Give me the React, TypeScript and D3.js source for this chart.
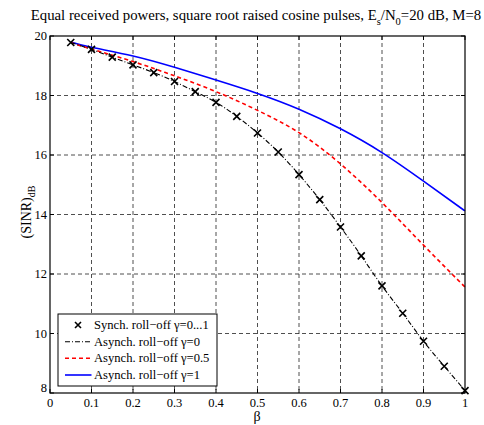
import React from 'react';
import * as d3 from 'd3';

// beta values of the cross markers (synchronous case)
const betaMarks = [0.05, 0.1, 0.15, 0.2, 0.25, 0.3, 0.35, 0.4, 0.45, 0.5, 0.55, 0.6, 0.65, 0.7, 0.75, 0.8, 0.85, 0.9, 0.95, 1.0];
const synchSinr = [19.78, 19.55, 19.29, 19.03, 18.77, 18.47, 18.13, 17.77, 17.3, 16.74, 16.1, 15.34, 14.5, 13.58, 12.61, 11.6, 10.68, 9.74, 8.9, 8.08];
// asynch gamma=0 follows the same points
const asyncZero = [19.78, 19.55, 19.29, 19.03, 18.77, 18.47, 18.13, 17.77, 17.3, 16.74, 16.1, 15.34, 14.5, 13.58, 12.61, 11.6, 10.68, 9.74, 8.9, 8.08];

const betaCurve = [0.05, 0.1, 0.2, 0.3, 0.4, 0.5, 0.6, 0.7, 0.8, 0.9, 1.0];
const asyncHalf = [19.78, 19.56, 19.14, 18.66, 18.13, 17.5, 16.75, 15.7, 14.4, 12.97, 11.56];
const asyncOne = [19.8, 19.62, 19.33, 18.95, 18.52, 18.07, 17.54, 16.88, 16.08, 15.12, 14.12];

const xTicks = [0, 0.1, 0.2, 0.3, 0.4, 0.5, 0.6, 0.7, 0.8, 0.9, 1];
const yTicks = [8, 10, 12, 14, 16, 18, 20];

const legendLabels = [
  'Synch. roll\u2212off \u03b3=0...1',
  'Asynch. roll\u2212off \u03b3=0',
  'Asynch. roll\u2212off \u03b3=0.5',
  'Asynch. roll\u2212off \u03b3=1',
];

const W = 484;
const H = 425;
const font = "'Liberation Serif', 'Times New Roman', serif";

export default function App() {
  const left = 50, right = 465, top = 36, bottom = 393;
  const x = d3.scaleLinear().domain([0, 1]).range([left, right]);
  const y = d3.scaleLinear().domain([8, 20]).range([bottom, top]);

  const line = d3.line<[number, number]>()
    .x(d => x(d[0]))
    .y(d => y(d[1]))
    .curve(d3.curveNatural);

  const zeroPath = line(betaMarks.map((b, i) => [b, asyncZero[i]]) as [number, number][]) || '';
  const halfPath = line(betaCurve.map((b, i) => [b, asyncHalf[i]]) as [number, number][]) || '';
  const onePath = line(betaCurve.map((b, i) => [b, asyncOne[i]]) as [number, number][]) || '';

  const cross = (cx: number, cy: number, s: number, key: number | string) => (
    <path key={key} d={`M${cx - s},${cy - s}L${cx + s},${cy + s}M${cx - s},${cy + s}L${cx + s},${cy - s}`}
      stroke="#000" strokeWidth={1.6} fill="none" />
  );

  const lg = { x: 58, y: 314, w: 159, h: 72 };
  const rowY = [325, 341.7, 358.3, 375];

  return (
    <svg width={W} height={H} style={{ position: 'absolute', left: 0, top: 0, background: '#fff' }}>
      <rect width={W} height={H} fill="#fff" />
      <g fontFamily={font}>

      {/* title */}
      <text x={256} y={20} textAnchor="middle" fontSize={14.8} fill="#000">
        Equal received powers, square root raised cosine pulses, E
        <tspan dy={5} fontSize={10.5}>s</tspan>
        <tspan dy={-5}>/N</tspan>
        <tspan dy={5} fontSize={10.5}>0</tspan>
        <tspan dy={-5}>=20 dB, M=8</tspan>
      </text>

      {/* grid */}
      <g stroke="#222" strokeWidth={0.8} strokeDasharray="4,3">
        {xTicks.slice(1, -1).map(t => (
          <line key={'gx' + t} x1={x(t)} x2={x(t)} y1={top} y2={bottom} />
        ))}
        {yTicks.slice(1, -1).map(t => (
          <line key={'gy' + t} x1={left} x2={right} y1={y(t)} y2={y(t)} />
        ))}
      </g>

      {/* ticks */}
      <g stroke="#000" strokeWidth={1}>
        {xTicks.map(t => (
          <g key={'tx' + t}>
            <line x1={x(t)} x2={x(t)} y1={bottom} y2={bottom - 4} />
            <line x1={x(t)} x2={x(t)} y1={top} y2={top + 4} />
          </g>
        ))}
        {yTicks.map(t => (
          <g key={'ty' + t}>
            <line x1={left} x2={left + 4} y1={y(t)} y2={y(t)} />
            <line x1={right} x2={right - 4} y1={y(t)} y2={y(t)} />
          </g>
        ))}
      </g>

      {/* tick labels */}
      <g fontSize={12.5} fill="#000">
        {xTicks.map(t => (
          <text key={'lx' + t} x={x(t)} y={bottom + 14} textAnchor="middle">{d3.format('~g')(t)}</text>
        ))}
        {yTicks.map(t => (
          <text key={'ly' + t} x={left - 3} y={y(t) + (t === 8 ? -1 : 4)} textAnchor="end">{t}</text>
        ))}
      </g>

      {/* curves */}
      <path d={onePath} fill="none" stroke="#0000ff" strokeWidth={1.6} />
      <path d={halfPath} fill="none" stroke="#ff0000" strokeWidth={1.6} strokeDasharray="4,3" />
      <path d={zeroPath} fill="none" stroke="#000" strokeWidth={1.1} strokeDasharray="5,2,1,2" />
      {betaMarks.map((b, i) => cross(x(b), y(synchSinr[i]), 3.5, i))}

      {/* frame */}
      <rect x={left} y={top} width={right - left} height={bottom - top} fill="none" stroke="#000" strokeWidth={1.2} />

      {/* axis labels */}
      <text x={257} y={421} textAnchor="middle" fontSize={14}>β</text>
      <text transform={`translate(31,212) rotate(-90)`} textAnchor="middle" fontSize={14}>
        (SINR)<tspan dy={4} fontSize={10}>dB</tspan>
      </text>

      {/* legend */}
      <rect x={lg.x} y={lg.y} width={lg.w} height={lg.h} fill="#fff" stroke="#000" strokeWidth={1} />
      {cross(78, rowY[0], 3, 'lc')}
      <line x1={65} x2={91.5} y1={rowY[1]} y2={rowY[1]} stroke="#000" strokeWidth={1.1} strokeDasharray="5,2,1,2" />
      <line x1={65} x2={91.5} y1={rowY[2]} y2={rowY[2]} stroke="#ff0000" strokeWidth={1.6} strokeDasharray="4,3" />
      <line x1={65} x2={91.5} y1={rowY[3]} y2={rowY[3]} stroke="#0000ff" strokeWidth={1.6} />
      <g fontSize={12.6} fill="#000">
        {legendLabels.map((l, i) => (
          <text key={l} x={94} y={rowY[i] + 4}>{l}</text>
        ))}
      </g>
      </g>
    </svg>
  );
}
